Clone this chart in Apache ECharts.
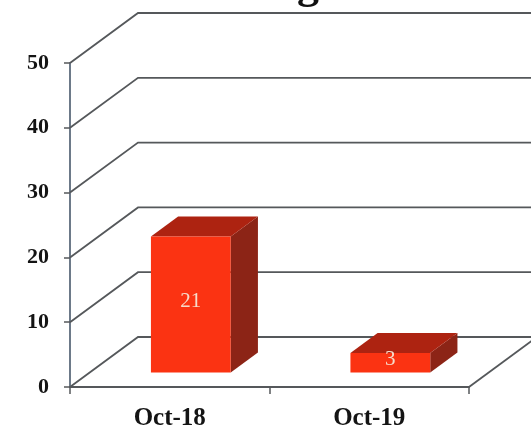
<!DOCTYPE html>
<html>
<head>
<meta charset="utf-8">
<style>html,body{margin:0;padding:0;background:#fff}#chart{width:531px;height:427px}</style>
<script src="https://cdn.jsdelivr.net/npm/echarts@6/dist/echarts.min.js"></script>
</head>
<body>
<div id="chart"></div>
<script>
// Monthly counts shown as pseudo-3D columns
const categories = ['Oct-18', 'Oct-19'];
const counts = [21, 3];
const yTicks = [0, 10, 20, 30, 40, 50];

// Oblique projection of the chart box
const depthX = 68;
const depthY = 50;
const barOffsetShareX = 0.31;
const barOffsetShareY = 0.29;
const barDepthSpan = 0.4;
const barWidthShare = 0.4;

const colors = { front: '#fb3312', top: '#ad2311', side: '#8c2416', grid: '#55585b', axis: '#5d6b7c', label: '#f6dccb' };

function renderWall(params, api) {
  const v = api.value(0);
  const cs = params.coordSys;
  const y = api.coord([0, v])[1];
  const children = [{
    type: 'polyline',
    shape: { points: [[cs.x, y], [cs.x + depthX, y - depthY], [cs.x + cs.width + depthX, y - depthY]] },
    style: { stroke: colors.grid, lineWidth: 1.8, fill: null }
  }];
  if (v === 0) {
    children.push({
      type: 'line',
      shape: { x1: cs.x + cs.width, y1: y, x2: cs.x + cs.width + depthX, y2: y - depthY },
      style: { stroke: colors.grid, lineWidth: 1.8 }
    });
  }
  return { type: 'group', children };
}

function renderColumn(params, api) {
  const idx = api.value(0);
  const val = api.value(1);
  const topPt = api.coord([idx, val]);
  const basePt = api.coord([idx, 0]);
  const w = api.size([1, 0])[0] * barWidthShare;
  const ox = depthX * barOffsetShareX;
  const oy = depthY * barOffsetShareY;
  const dx = depthX * barDepthSpan;
  const dy = depthY * barDepthSpan;
  const l = topPt[0] + ox - w / 2;
  const r = l + w;
  const t = topPt[1] - oy;
  const b = basePt[1] - oy;
  return {
    type: 'group',
    children: [
      { type: 'polygon', shape: { points: [[r, t], [r + dx, t - dy], [r + dx, b - dy], [r, b]] }, style: { fill: colors.side } },
      { type: 'polygon', shape: { points: [[l, t], [l + dx, t - dy], [r + dx, t - dy], [r, t]] }, style: { fill: colors.top } },
      { type: 'rect', shape: { x: l, y: t, width: w, height: b - t }, style: { fill: colors.front } },
      { type: 'text', style: { text: String(val), x: (l + r) / 2, y: (t + b) / 2 - 3, align: 'center', verticalAlign: 'middle', fill: colors.label, font: '21px "Liberation Serif"' } }
    ]
  };
}

const chart = echarts.init(document.getElementById('chart'), null, { renderer: 'canvas' });
chart.setOption({
  animation: false,
  backgroundColor: '#ffffff',
  title: {
    text: 'g',
    left: 297,
    top: -35,
    padding: 0,
    textStyle: { fontFamily: 'Liberation Serif', fontWeight: 'bold', fontSize: 44, color: '#111' }
  },
  grid: { left: 70, right: 62, top: 63, bottom: 40, outerBoundsMode: 'none' },
  xAxis: {
    type: 'category',
    data: categories,
    boundaryGap: true,
    axisLine: { lineStyle: { color: colors.grid, width: 1.8 } },
    axisTick: { show: true, length: 7, lineStyle: { color: colors.grid, width: 1.5 } },
    axisLabel: { fontFamily: 'Liberation Serif', fontWeight: 'bold', fontSize: 25, color: '#141414', margin: 19 },
    splitLine: { show: false }
  },
  yAxis: {
    type: 'value',
    min: 0,
    max: 50,
    interval: 10,
    axisLine: { show: true, lineStyle: { color: colors.axis, width: 1.8 } },
    axisTick: { show: true, length: 6, lineStyle: { color: colors.grid, width: 1.5 } },
    axisLabel: { fontFamily: 'Liberation Serif', fontWeight: 'bold', fontSize: 22, color: '#141414', margin: 21 },
    splitLine: { show: false }
  },
  series: [
    { type: 'custom', name: 'wall', z: 1, renderItem: renderWall, data: yTicks.map(v => [v]), encode: { y: 0 }, silent: true },
    { type: 'custom', name: 'count', z: 3, renderItem: renderColumn, data: counts.map((v, i) => [i, v]), encode: { x: 0, y: 1 } }
  ]
});
</script>
</body>
</html>
